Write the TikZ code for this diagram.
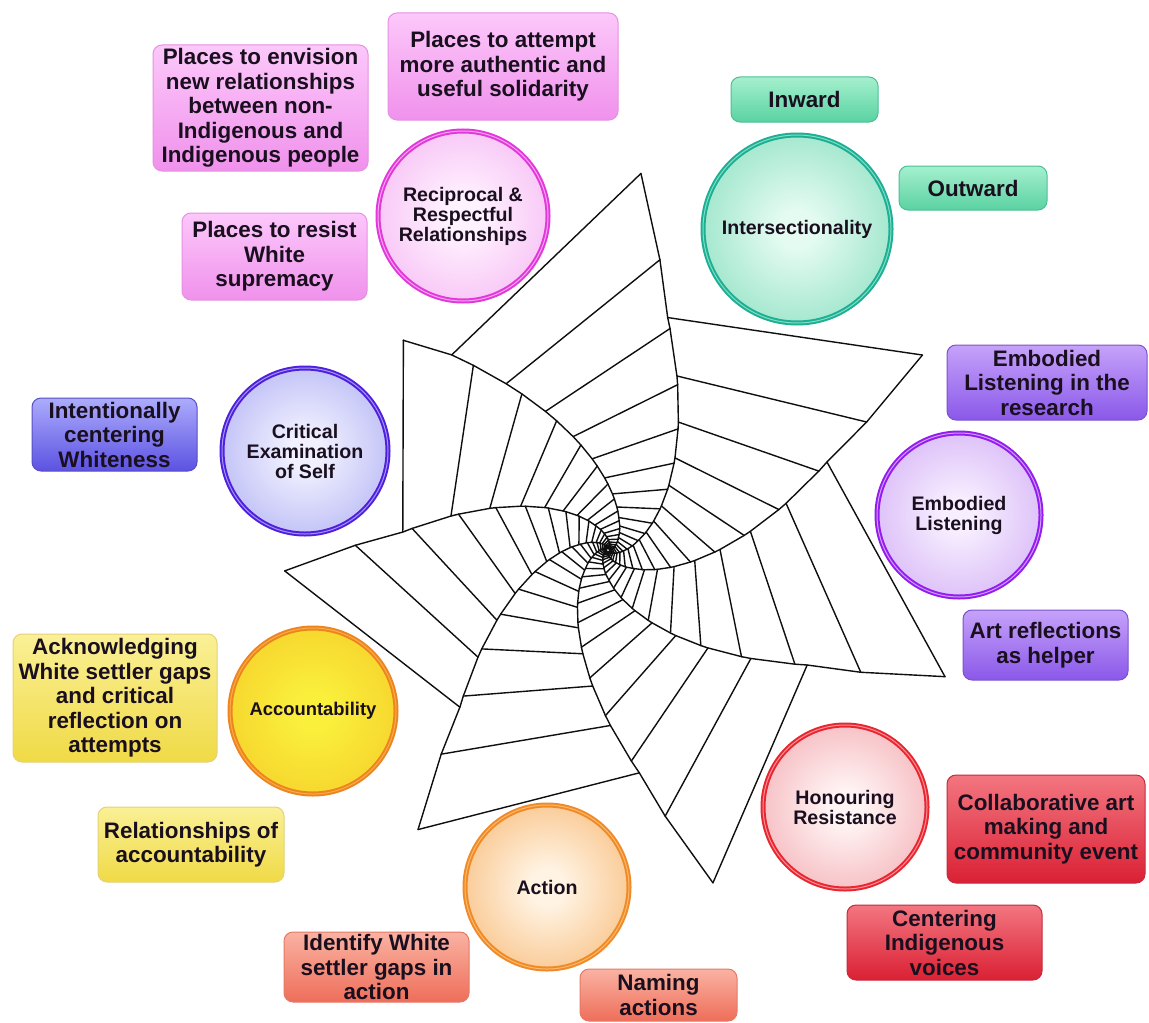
\documentclass[tikz,border=0pt]{standalone}
\usepackage{fontspec}
\setmainfont{Liberation Sans}
\usetikzlibrary{shadings}
\makeatletter
\pgfdeclareradialshading[tikz@radial@inner,tikz@radial@outer]{softrad}{\pgfpoint{0bp}{0bp}}{color(0bp)=(tikz@radial@inner); color(5bp)=(tikz@radial@inner); color(50bp)=(tikz@radial@outer)}
\makeatother
% angle of a spiral spoke at radius #1 (knee radius #2, knee angle #3, tip radius #4, tip angle #5)
\pgfmathdeclarefunction{spa}{5}{%
  \begingroup
  \pgfmathparse{(1-(#1>#2))*(#3+29*ln(#1/#2))+(#1>#2)*(#3+(#5-(#3))*ln(#1/#2)/ln(#4/#2))}%
  \pgfmathsmuggle\pgfmathresult
  \endgroup}
\definecolor{txt}{RGB}{25,15,30}
\definecolor{webc}{RGB}{15,15,15}
% pink
\definecolor{pkR}{RGB}{226,55,218}\definecolor{pkD}{RGB}{246,165,242}
\definecolor{pkI}{RGB}{255,242,255}\definecolor{pkO}{RGB}{240,150,236}
\definecolor{pkT}{RGB}{252,200,250}\definecolor{pkB}{RGB}{240,145,236}\definecolor{pkE}{RGB}{230,145,226}
% teal
\definecolor{tlR}{RGB}{28,175,148}\definecolor{tlD}{RGB}{130,222,195}
\definecolor{tlI}{RGB}{228,251,241}\definecolor{tlO}{RGB}{88,208,165}
\definecolor{tlT}{RGB}{165,240,206}\definecolor{tlB}{RGB}{90,210,162}\definecolor{tlE}{RGB}{75,192,152}
% violet
\definecolor{vlR}{RGB}{148,28,238}\definecolor{vlD}{RGB}{205,160,250}
\definecolor{vlI}{RGB}{247,238,255}\definecolor{vlO}{RGB}{190,140,240}
\definecolor{vlT}{RGB}{198,162,250}\definecolor{vlB}{RGB}{138,88,233}\definecolor{vlE}{RGB}{122,82,208}
% blue
\definecolor{blR}{RGB}{78,32,222}\definecolor{blD}{RGB}{165,150,245}
\definecolor{blI}{RGB}{240,240,255}\definecolor{blO}{RGB}{142,142,238}
\definecolor{blT}{RGB}{172,172,252}\definecolor{blB}{RGB}{92,82,226}\definecolor{blE}{RGB}{88,78,198}
% yellow
\definecolor{ywR}{RGB}{238,132,30}\definecolor{ywD}{RGB}{250,172,72}
\definecolor{ywI}{RGB}{250,240,60}\definecolor{ywO}{RGB}{243,185,30}
\definecolor{ywT}{RGB}{250,240,150}\definecolor{ywB}{RGB}{240,218,70}\definecolor{ywE}{RGB}{228,210,120}
% orange
\definecolor{orR}{RGB}{240,138,38}\definecolor{orD}{RGB}{250,185,110}
\definecolor{orI}{RGB}{255,244,228}\definecolor{orO}{RGB}{244,155,62}
\definecolor{orT}{RGB}{250,178,162}\definecolor{orB}{RGB}{238,110,90}\definecolor{orE}{RGB}{228,122,102}
% red
\definecolor{rdR}{RGB}{232,38,48}\definecolor{rdD}{RGB}{250,145,150}
\definecolor{rdI}{RGB}{255,244,244}\definecolor{rdO}{RGB}{236,132,142}
\definecolor{rdT}{RGB}{243,118,128}\definecolor{rdB}{RGB}{218,32,52}\definecolor{rdE}{RGB}{198,42,62}
\tikzset{
  web/.style={draw=webc, line width=0.7pt, line cap=round, line join=round},
  bub/.style 2 args={circle, inner sep=0pt, minimum size=#1, align=center, text=txt,
    font=\fontsize{9.8}{10}\selectfont\bfseries, draw=#2R, double=#2D, line width=1pt,
    double distance=0.5pt, inner color=#2I, outer color=#2O, shading=softrad},
  box/.style n args={3}{rectangle, rounded corners=4.5pt, inner sep=1pt, minimum width=#1,
    minimum height=#2, align=center, text=txt, font=\fontsize{11.2}{12.25}\selectfont\bfseries,
    draw=#3E, line width=0.5pt, top color=#3T, bottom color=#3B}
}
\begin{document}
\begin{tikzpicture}[x=0.5pt,y=-0.5pt]
\useasboundingbox (0,0) rectangle (1149,1022);
\fill[white] (0,0) rectangle (1149,1022);
\clip (0,0) rectangle (1149,1022);
\def\q{0.78}
% ---------- spiral web: rungs ----------
\foreach \rka/\aka/\rta/\ata/\rkb/\akb/\rtb/\atb in {
  240/75.6/378/85.0/236/21.9/370/31.8,
  236/21.9/370/31.8/230/-30.0/360/-20.6,
  230/-30.0/360/-20.6/225/-82.0/349/-72.5,
  225/-82.0/349/-72.5/216/-133.3/338/-124.2,
  216/-133.3/338/-124.2/206/175.0/324/183.7,
  206/175.0/324/183.7/250/128.7/293/134.3,
  250/128.7/293/134.3/240/75.6/378/85.0}{
  \foreach \j in {0,...,20}{
    \pgfmathsetmacro\ra{\rka*\q^\j}
    \pgfmathsetmacro\aa{spa(\ra,\rka,\aka,\rta,\ata)}
    \pgfmathsetmacro\rb{\rtb*\q^\j}
    \pgfmathsetmacro\ab{spa(\rb,\rkb,\akb,\rtb,\atb)}
    \coordinate (ru1) at ({608+\ra*cos(\aa)},{550-\ra*sin(\aa)});
    \coordinate (ru2) at ({608+\rb*cos(\ab)},{550-\rb*sin(\ab)});
    \draw[web] (ru1) -- (ru2);
  }
}
% ---------- spiral web: spokes ----------
\foreach \rk/\ak/\rt/\at/\m in {
  240/75.6/378/85.0/2, 236/21.9/370/31.8/2, 230/-30.0/360/-20.6/2,
  225/-82.0/349/-72.5/2, 216/-133.3/338/-124.2/2, 206/175.0/324/183.7/2,
  250/128.7/293/134.3/1}{
  \pgfmathsetmacro\ra{\rt}
  \pgfmathsetmacro\aa{spa(\ra,\rk,\ak,\rt,\at)}
  \pgfmathsetmacro\rb{\rt*\q^(\m-1)}
  \pgfmathsetmacro\ab{spa(\rb,\rk,\ak,\rt,\at)}
  \coordinate (sp1) at ({608+\ra*cos(\aa)},{550-\ra*sin(\aa)});
  \coordinate (sp2) at ({608+\rb*cos(\ab)},{550-\rb*sin(\ab)});
  \draw[web] (sp1) -- (sp2);
  \foreach \i in {0,...,20}{
    \pgfmathsetmacro\ra{\rt*\q^(\m-1+\i)}
    \pgfmathsetmacro\aa{spa(\ra,\rk,\ak,\rt,\at)}
    \pgfmathsetmacro\rb{\rk*\q^\i}
    \pgfmathsetmacro\ab{spa(\rb,\rk,\ak,\rt,\at)}
    \pgfmathsetmacro\rc{\rt*\q^(\m+\i)}
    \pgfmathsetmacro\ac{spa(\rc,\rk,\ak,\rt,\at)}
    \coordinate (sa) at ({608+\ra*cos(\aa)},{550-\ra*sin(\aa)});
    \coordinate (sb) at ({608+\rb*cos(\ab)},{550-\rb*sin(\ab)});
    \coordinate (sc) at ({608+\rc*cos(\ac)},{550-\rc*sin(\ac)});
    \draw[web] (sa) -- (sb) -- (sc);
  }
}
% ---------- reciprocal & respectful relationships ----------
\node[box={107.5pt}{63pt}{pk}] (envision) at (260.5,108) {Places to envision\\new relationships\\between non-\\Indigenous and\\Indigenous people};
\node[box={115pt}{53.5pt}{pk}] (attempt) at (503,66.5) {Places to attempt\\more authentic and\\useful solidarity};
\node[box={92.5pt}{43.5pt}{pk}] (resist) at (274.5,256.5) {Places to resist\\White\\supremacy};
\node[bub={85pt}{pk}] (recip) at (463,216) {Reciprocal \&\\Respectful\\Relationships};
% ---------- intersectionality ----------
\node[box={73.5pt}{22.5pt}{tl}] (inward) at (804.5,99.5) {Inward};
\node[box={74pt}{22pt}{tl}] (outward) at (973,188) {Outward};
\node[bub={94pt}{tl}] (inter) at (797,229) {Intersectionality};
% ---------- embodied listening ----------
\node[box={100pt}{37.5pt}{vl}] (elres) at (1047,382.5) {Embodied\\Listening in the\\research};
\node[bub={82pt}{vl}] (embl) at (959,515) {Embodied\\Listening};
\node[box={82.5pt}{35pt}{vl}] (artref) at (1045.5,645) {Art reflections\\as helper};
% ---------- honouring resistance ----------
\node[bub={82pt}{rd}] (honour) at (845,807) {Honouring\\Resistance};
\node[box={99pt}{54pt}{rd}] (collab) at (1046,829) {Collaborative art\\making and\\community event};
\node[box={97.5pt}{37.5pt}{rd}] (centring) at (944.5,942.5) {Centering\\Indigenous\\voices};
% ---------- action ----------
\node[bub={82pt}{or}] (action) at (547,887) {Action};
\node[box={78.5pt}{26pt}{or}] (naming) at (658.5,995) {Naming\\actions};
\node[box={92.5pt}{35pt}{or}] (identify) at (376.5,967) {Identify White\\settler gaps in\\action};
% ---------- accountability ----------
\node[box={93pt}{37.5pt}{yw}] (relacc) at (191,844.5) {Relationships of\\accountability};
\node[box={102pt}{64pt}{yw}] (acknow) at (115,698) {Acknowledging\\White settler gaps\\and critical\\reflection on\\attempts};
\node[bub={83pt}{yw}, font=\fontsize{9.2}{10}\selectfont\bfseries] (account) at (313,711) {Accountability};
% ---------- critical examination ----------
\node[bub={83pt}{bl}] (critical) at (305,451) {Critical\\Examination\\of Self};
\node[box={82.5pt}{36.5pt}{bl}] (intent) at (114.5,434.5) {Intentionally\\centering\\Whiteness};
\end{tikzpicture}
\end{document}
